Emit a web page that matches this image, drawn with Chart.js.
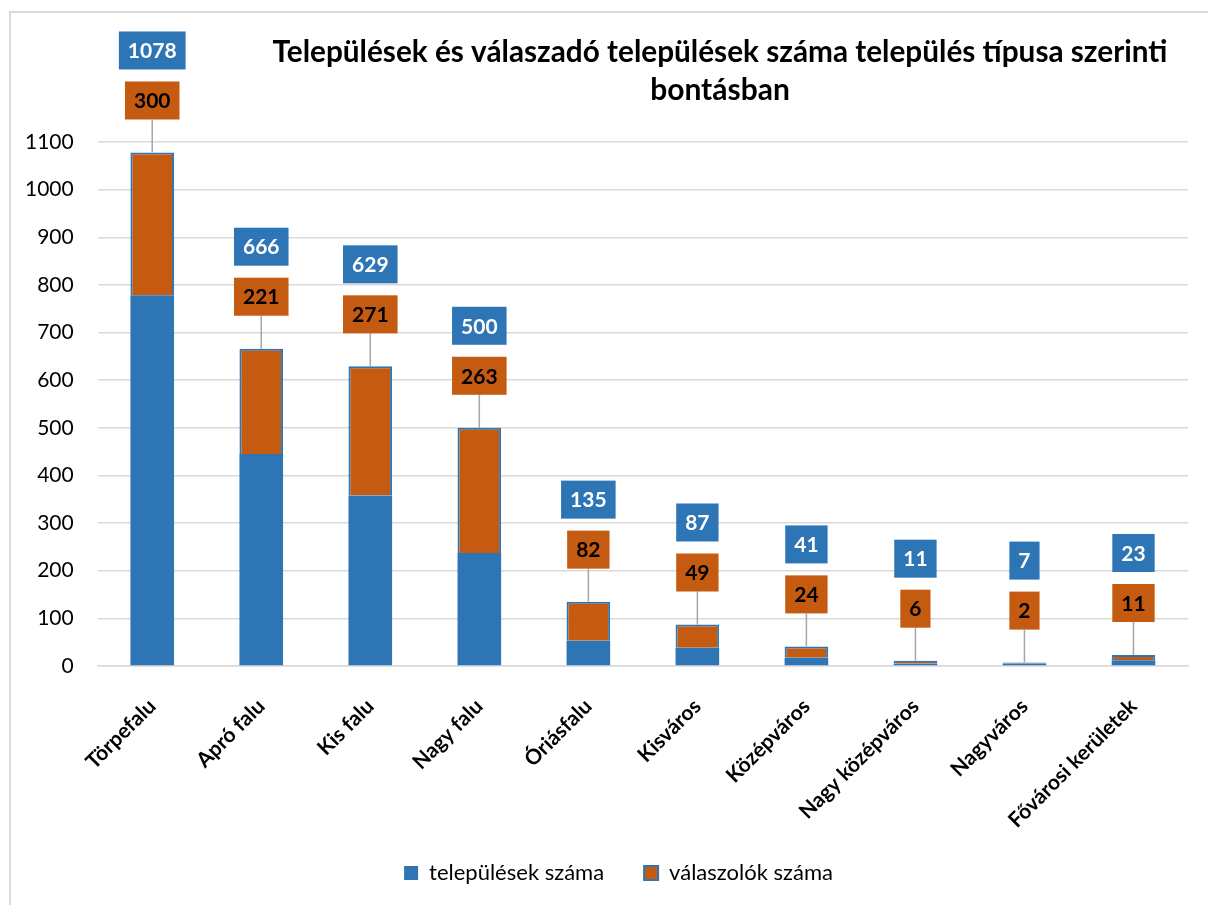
<!DOCTYPE html>
<html>
<head>
<meta charset="utf-8">
<script src="https://cdn.jsdelivr.net/npm/chart.js@4.4.0/dist/chart.umd.min.js"></script>
<style>
body { margin: 0; background: #fff; }
#frame { position: absolute; left: 9px; top: 11px; width: 1300px; height: 1000px; border-left: 2px solid #D9D9D9; border-top: 2px solid #D9D9D9; }
#wrap { position: absolute; left: 0; top: 0; width: 1208px; height: 905px; }
</style>
</head>
<body>
<div id="frame"></div>
<div id="wrap"><canvas id="barChart" width="1208" height="905"></canvas></div>
<script>
var kategoriak = ['Törpefalu', 'Apró falu', 'Kis falu', 'Nagy falu', 'Óriásfalu', 'Kisváros', 'Középváros', 'Nagy középváros', 'Nagyváros', 'Fővárosi kerületek'];
var telepulesek = [1078, 666, 629, 500, 135, 87, 41, 11, 7, 23];
var valaszolok = [300, 221, 271, 263, 82, 49, 24, 6, 2, 11];
var cimSorok = ['Települések és válaszadó települések száma település típusa szerinti', 'bontásban'];

var KEK = '#2E75B6';
var NARANCS = '#C55A11';

// a kék oszlop a válaszolók alatti rész, így a kettő együtt a települések száma
var kekResz = telepulesek.map(function (t, i) { return t - valaszolok[i]; });

Chart.defaults.font.family = 'Lato';
Chart.defaults.color = '#000';

function doboz(ctx, szoveg, x, y, hatter, szin) {
    var w = ctx.measureText(szoveg).width + 18;
    var h = 38;
    ctx.fillStyle = hatter;
    ctx.fillRect(x - w / 2, y - h / 2, w, h);
    ctx.fillStyle = szin;
    ctx.fillText(szoveg, x, y + 1);
}

var cimkek = {
    id: 'cimkek',
    afterDatasetsDraw: function (chart) {
        var ctx = chart.ctx;
        var y = chart.scales.y;
        var meta = chart.getDatasetMeta(1);
        ctx.save();
        ctx.font = 'bold 21px Lato';
        ctx.textAlign = 'center';
        ctx.textBaseline = 'middle';
        for (var i = 0; i < telepulesek.length; i++) {
            var x = meta.data[i].x;
            var teteje = y.getPixelForValue(telepulesek[i]);
            var oy = teteje - 52;
            var ky = oy - 50;
            ctx.strokeStyle = '#A6A6A6';
            ctx.lineWidth = 1.5;
            ctx.beginPath();
            ctx.moveTo(x, teteje);
            ctx.lineTo(x, oy + 19);
            ctx.stroke();
            doboz(ctx, String(valaszolok[i]), x, oy, NARANCS, '#000');
            doboz(ctx, String(telepulesek[i]), x, ky, KEK, '#fff');
        }
        ctx.restore();
    }
};

var cim = {
    id: 'cim',
    afterDraw: function (chart) {
        var ctx = chart.ctx;
        ctx.save();
        ctx.font = 'bold 30px Lato';
        ctx.fillStyle = '#000';
        ctx.textAlign = 'center';
        ctx.textBaseline = 'alphabetic';
        ctx.fillText(cimSorok[0], 720, 62, 895);
        ctx.fillText(cimSorok[1], 720, 100);
        ctx.restore();
    }
};

// jelmagyarázat kicsit jobbra, és a ferde feliratok ne vágódjanak le
var igazitas = {
    id: 'igazitas',
    afterLayout: function (chart) {
        chart.legend.left += 24;
        chart.legend.right += 24;
        chart.scales.x.bottom = chart.height;
    }
};

var ctx = document.getElementById('barChart').getContext('2d');
var myChart = new Chart(ctx, {
    type: 'bar',
    data: {
        labels: kategoriak,
        datasets: [{
            label: 'települések száma',
            data: kekResz,
            backgroundColor: KEK,
            borderWidth: 0
        }, {
            label: 'válaszolók száma',
            data: valaszolok,
            backgroundColor: NARANCS,
            borderColor: KEK,
            borderWidth: 2
        }]
    },
    options: {
        responsive: false,
        animation: false,
        layout: {
            padding: { top: 142, left: 1, right: 20, bottom: 11 }
        },
        datasets: {
            bar: { barPercentage: 0.4, categoryPercentage: 1 }
        },
        scales: {
            x: {
                stacked: true,
                grid: { display: false },
                border: { color: '#D9D9D9', width: 1.5 },
                afterFit: function (axis) { axis.height -= 31; },
                ticks: {
                    autoSkip: false,
                    maxRotation: 45,
                    minRotation: 45,
                    padding: 20,
                    font: { size: 21, weight: 'bold' }
                }
            },
            y: {
                stacked: true,
                min: 0,
                max: 1100,
                border: { display: false },
                grid: { color: '#D9D9D9', lineWidth: 1.5, drawTicks: false },
                ticks: {
                    stepSize: 100,
                    padding: 24,
                    font: { size: 21 },
                    callback: function (v) { return String(v); }
                }
            }
        },
        plugins: {
            title: { display: false },
            tooltip: { enabled: false },
            legend: {
                position: 'bottom',
                labels: {
                    boxWidth: 14,
                    boxHeight: 14,
                    padding: 40,
                    font: { size: 22 }
                }
            }
        }
    },
    plugins: [cimkek, cim, igazitas]
});
</script>
</body>
</html>
